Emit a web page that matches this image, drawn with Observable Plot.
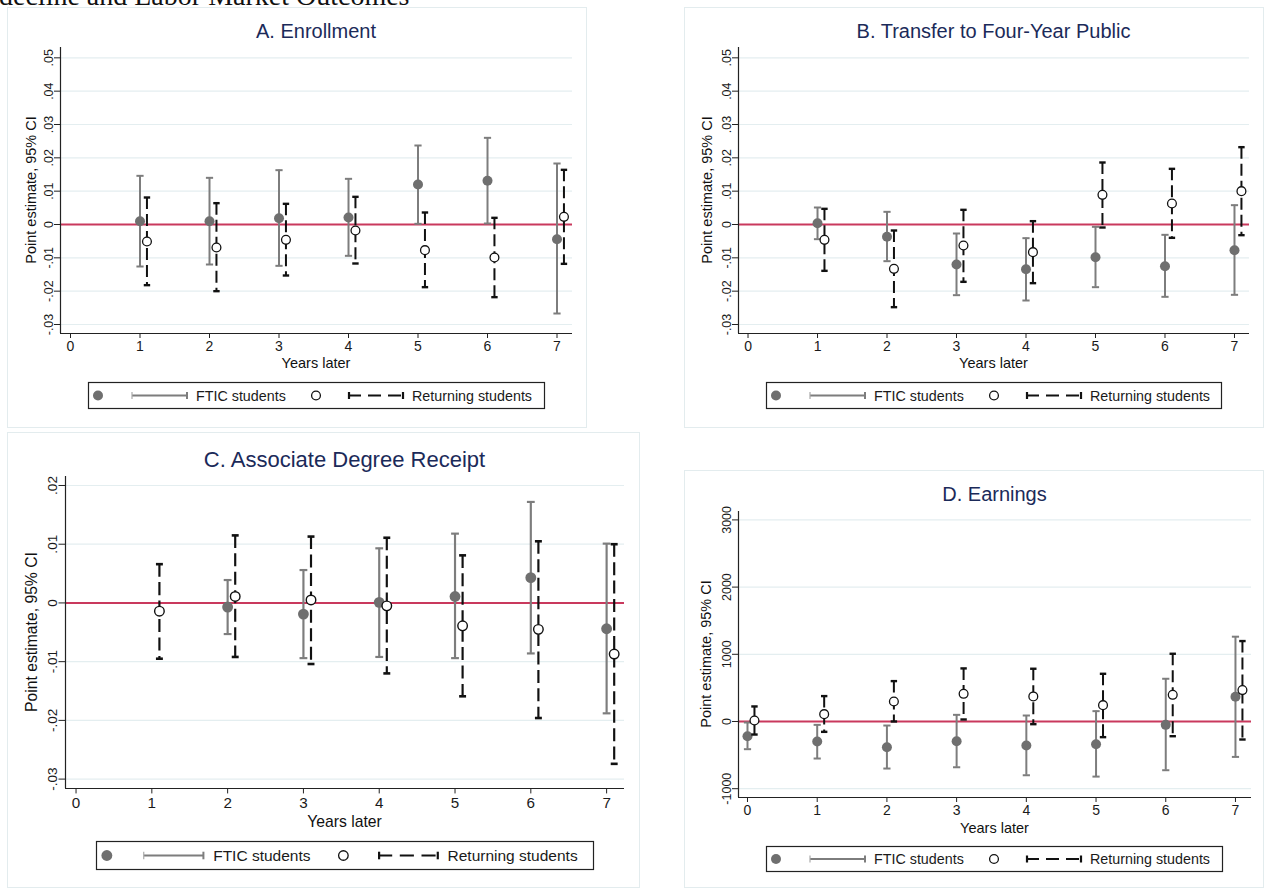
<!DOCTYPE html>
<html>
<head>
<meta charset="utf-8">
<script src="https://cdn.jsdelivr.net/npm/d3@7"></script>
<script src="https://cdn.jsdelivr.net/npm/@observablehq/plot@0.6"></script>
<style>
  html, body { margin: 0; padding: 0; background: #fff; }
  body { width: 1266px; height: 890px; position: relative; overflow: hidden;
         font-family: "Liberation Sans", Arial, sans-serif; color: #111; }
  .frame { position: absolute; border: 1px solid #e3ecee; box-sizing: border-box; }
  .abs { position: absolute; white-space: nowrap; line-height: 1; }
  .title { color: #1b2a59; transform: translate(-50%, -50%); }
  .ytitle { transform: translate(-50%, -50%) rotate(-90deg); }
  .xtitle { transform: translate(-50%, -50%); }
  .heading { font-family: "Liberation Serif", "DejaVu Serif", serif; font-size: 28px; line-height: 28px; }
  svg { overflow: visible; }
</style>
</head>
<body>
<script>
// ---------- data ----------
const xTicks = [0, 1, 2, 3, 4, 5, 6, 7];
const yTicksAB = [-0.03, -0.02, -0.01, 0, 0.01, 0.02, 0.03, 0.04, 0.05];
const yTicksC = [-0.03, -0.02, -0.01, 0, 0.01, 0.02];
const yTicksD = [-1000, 0, 1000, 2000, 3000];
const seriesLabels = ["FTIC students", "Returning students"];
const panelTitles = ["A. Enrollment", "B. Transfer to Four-Year Public", "C. Associate Degree Receipt", "D. Earnings"];
const xAxisTitle = "Years later";
const yAxisTitle = "Point estimate, 95% CI";
const headingText = "decline and Labor Market Outcomes";

// Panel A: Enrollment
const aFticYears = [1, 2, 3, 4, 5, 6, 7];
const aFticEst = [0.0010, 0.0010, 0.0019, 0.0021, 0.0120, 0.0131, -0.0044];
const aFticLo  = [-0.0126, -0.0120, -0.0124, -0.0094, 0.0002, 0.0003, -0.0267];
const aFticHi  = [0.0146, 0.0140, 0.0163, 0.0137, 0.0237, 0.0260, 0.0183];
const aRetYears = [1, 2, 3, 4, 5, 6, 7];
const aRetEst = [-0.0051, -0.0069, -0.0046, -0.0018, -0.0077, -0.0099, 0.0023];
const aRetLo  = [-0.0182, -0.0200, -0.0153, -0.0117, -0.0188, -0.0218, -0.0118];
const aRetHi  = [0.0081, 0.0064, 0.0062, 0.0083, 0.0036, 0.0020, 0.0164];

// Panel B: Transfer to Four-Year Public
const bFticYears = [1, 2, 3, 4, 5, 6, 7];
const bFticEst = [0.0004, -0.0037, -0.0120, -0.0134, -0.0098, -0.0125, -0.0077];
const bFticLo  = [-0.0044, -0.0110, -0.0212, -0.0228, -0.0188, -0.0217, -0.0211];
const bFticHi  = [0.0051, 0.0038, -0.0027, -0.0041, -0.0007, -0.0031, 0.0058];
const bRetYears = [1, 2, 3, 4, 5, 6, 7];
const bRetEst = [-0.0046, -0.0133, -0.0063, -0.0083, 0.0089, 0.0063, 0.0100];
const bRetLo  = [-0.0139, -0.0248, -0.0172, -0.0176, -0.0009, -0.0040, -0.0032];
const bRetHi  = [0.0047, -0.0018, 0.0044, 0.0010, 0.0186, 0.0167, 0.0232];

// Panel C: Associate Degree Receipt
const cFticYears = [2, 3, 4, 5, 6, 7];
const cFticEst = [-0.0007, -0.0019, 0.0001, 0.0011, 0.0043, -0.0044];
const cFticLo  = [-0.0053, -0.0094, -0.0092, -0.0094, -0.0086, -0.0188];
const cFticHi  = [0.0039, 0.0056, 0.0093, 0.0118, 0.0172, 0.0101];
const cRetYears = [1, 2, 3, 4, 5, 6, 7];
const cRetEst = [-0.0014, 0.0011, 0.0005, -0.0005, -0.0039, -0.0045, -0.0087];
const cRetLo  = [-0.0095, -0.0092, -0.0104, -0.0120, -0.0159, -0.0196, -0.0274];
const cRetHi  = [0.0066, 0.0115, 0.0113, 0.0111, 0.0081, 0.0105, 0.0100];

// Panel D: Earnings
const dFticYears = [0, 1, 2, 3, 4, 5, 6, 7];
const dFticEst = [-219, -298, -383, -293, -358, -338, -50, 368];
const dFticLo  = [-412, -551, -700, -681, -800, -820, -725, -527];
const dFticHi  = [-15, -50, -60, 99, 89, 154, 636, 1262];
const dRetYears = [0, 1, 2, 3, 4, 5, 6, 7];
const dRetEst = [15, 109, 298, 412, 373, 243, 397, 467];
const dRetLo  = [-194, -154, 0, 30, -40, -233, -219, -268];
const dRetHi  = [224, 378, 601, 790, 785, 710, 1008, 1197];

// ---------- styles ----------
const GRID = "#e4eef0";
const RED = "#c9395d";
const GRAY_PT = "#6f6f6f";
const GRAY_CI = "#7d7d7d";
const BLACK = "#111";
const RET_OFFSET = 0.1;
const FONT = "Liberation Sans, Arial, sans-serif";

const hyphen = s => s.replace(/\u2212/g, "-");
const fmtProp = d => d === 0 ? "0" : hyphen(d3.format(".2f")(d)).replace("0.", ".");
const fmtInt = d => hyphen(d3.format("d")(d));

const capSymbol = {
  draw(ctx, size) {
    const r = Math.sqrt(size / Math.PI);
    ctx.moveTo(-r, 0); ctx.lineTo(r, 0);
  }
};

function rows(years, est, lo, hi) {
  return years.map((x, i) => ({x, est: est[i], lo: lo[i], hi: hi[i]}));
}

const panels = [
  {title: panelTitles[0], frame: [7, 7, 580, 421], px: [60, 572], py: [47, 333],
   xDomain: [-0.144, 7.223], yDomain: [-0.0327, 0.0531], yTicks: yTicksAB, fmt: fmtProp,
   ftic: rows(aFticYears, aFticEst, aFticLo, aFticHi), ret: rows(aRetYears, aRetEst, aRetLo, aRetHi),
   titleY: 31, titleSize: 20, yTitleX: 31, xTitleY: 363, legend: [88, 382, 457, 27], s: 1},
  {title: panelTitles[1], frame: [684, 7, 580, 421], px: [738, 1249], py: [47, 333],
   xDomain: [-0.137, 7.216], yDomain: [-0.0327, 0.0531], yTicks: yTicksAB, fmt: fmtProp,
   ftic: rows(bFticYears, bFticEst, bFticLo, bFticHi), ret: rows(bRetYears, bRetEst, bRetLo, bRetHi),
   titleY: 31, titleSize: 20, yTitleX: 707, xTitleY: 363, legend: [766, 382, 456, 27], s: 1},
  {title: panelTitles[2], frame: [7, 432, 633, 456], px: [65, 624], py: [476, 788],
   xDomain: [-0.139, 7.236], yDomain: [-0.0316, 0.02153], yTicks: yTicksC, fmt: fmtProp,
   ftic: rows(cFticYears, cFticEst, cFticLo, cFticHi), ret: rows(cRetYears, cRetEst, cRetLo, cRetHi),
   titleY: 460, titleSize: 22, yTitleX: 32, xTitleY: 822, legend: [96, 841, 498, 29], s: 1.085},
  {title: panelTitles[3], frame: [684, 470, 580, 418], px: [738, 1251], py: [511, 797],
   xDomain: [-0.129, 7.23], yDomain: [-1131, 3125], yTicks: yTicksD, fmt: fmtInt,
   ftic: rows(dFticYears, dFticEst, dFticLo, dFticHi), ret: rows(dRetYears, dRetEst, dRetLo, dRetHi),
   titleY: 494, titleSize: 20, yTitleX: 706, xTitleY: 828, legend: [766, 846, 457, 26], s: 1}
];

function addDiv(cls, text, left, top, style) {
  const d = document.createElement("div");
  d.className = cls;
  if (text != null) d.textContent = text;
  d.style.left = left + "px";
  d.style.top = top + "px";
  Object.assign(d.style, style || {});
  document.body.appendChild(d);
  return d;
}

// heading fragment (the reference shows only its lower part at the very top)
addDiv("abs heading", headingText, -1, -18);

for (const p of panels) {
  const [fx, fy, fw, fh] = p.frame;
  const s = p.s;
  addDiv("frame", null, fx, fy, {width: fw + "px", height: fh + "px"});

  const retX = d => d.x + RET_OFFSET;
  const chart = Plot.plot({
    width: fw, height: fh,
    marginLeft: p.px[0] - fx, marginRight: fx + fw - p.px[1],
    marginTop: p.py[0] - fy, marginBottom: fy + fh - p.py[1],
    x: {domain: p.xDomain}, y: {domain: p.yDomain},
    style: {fontFamily: FONT, background: "transparent", color: "#1a1a1a", overflow: "visible"},
    marks: [
      Plot.ruleY(p.yTicks, {stroke: GRID, strokeWidth: 1.2}),
      Plot.ruleY([0], {stroke: RED, strokeWidth: 2}),
      Plot.ruleX(p.ftic, {x: "x", y1: "lo", y2: "hi", stroke: GRAY_CI, strokeWidth: 2 * s}),
      Plot.dot(p.ftic, {x: "x", y: "lo", symbol: capSymbol, r: 3.6 * s, fill: "none", stroke: GRAY_CI, strokeWidth: 2 * s}),
      Plot.dot(p.ftic, {x: "x", y: "hi", symbol: capSymbol, r: 3.6 * s, fill: "none", stroke: GRAY_CI, strokeWidth: 2 * s}),
      Plot.dot(p.ftic, {x: "x", y: "est", r: 5 * s, fill: GRAY_PT, stroke: "none"}),
      Plot.ruleX(p.ret, {x: retX, y1: "hi", y2: "lo", stroke: BLACK, strokeWidth: 2 * s, strokeDasharray: `${12 * s},${5 * s}`}),
      Plot.dot(p.ret, {x: retX, y: "lo", symbol: capSymbol, r: 3.2 * s, fill: "none", stroke: BLACK, strokeWidth: 2.4 * s}),
      Plot.dot(p.ret, {x: retX, y: "hi", symbol: capSymbol, r: 3.2 * s, fill: "none", stroke: BLACK, strokeWidth: 2.4 * s}),
      Plot.dot(p.ret, {x: retX, y: "est", r: 4.4 * s, fill: "#fff", stroke: BLACK, strokeWidth: 1.3 * s}),
      Plot.axisX({ticks: xTicks, tickFormat: fmtInt, tickSize: 5 * s, tickPadding: 3, fontSize: 14 * s, label: null, stroke: "#222"}),
      Plot.axisY({ticks: p.yTicks, tickFormat: p.fmt, tickRotate: -90, tickSize: 6 * s, tickPadding: 2, fontSize: 12.5 * s, label: null, stroke: "#222"}),
      Plot.ruleX([p.xDomain[0]], {stroke: "#222", strokeWidth: 1.2}),
      Plot.ruleY([p.yDomain[0]], {stroke: "#222", strokeWidth: 1.2})
    ]
  });
  chart.style.position = "absolute";
  chart.style.left = fx + "px";
  chart.style.top = fy + "px";
  document.body.appendChild(chart);

  const cx = (p.px[0] + p.px[1]) / 2;
  const cy = (p.py[0] + p.py[1]) / 2;
  addDiv("abs title", p.title, cx, p.titleY, {fontSize: p.titleSize + "px"});
  addDiv("abs ytitle", yAxisTitle, p.yTitleX, cy, {fontSize: (14.5 * s) + "px"});
  addDiv("abs xtitle", xAxisTitle, cx, p.xTitleY, {fontSize: (14.5 * s) + "px"});

  // legend
  const [lx, ly, lw, lh] = p.legend;
  const mid = lh / 2;
  const lg = d3.create("svg").attr("width", lw).attr("height", lh)
    .style("position", "absolute").style("left", lx + "px").style("top", ly + "px")
    .style("font-family", FONT);
  lg.append("rect").attr("x", 0.5).attr("y", 0.5).attr("width", lw - 1).attr("height", lh - 1)
    .attr("fill", "#fff").attr("stroke", "#222").attr("stroke-width", 1.2);
  lg.append("circle").attr("cx", 10 * s).attr("cy", mid).attr("r", 5 * s).attr("fill", GRAY_PT);
  const g1 = lg.append("g").attr("stroke", GRAY_CI).attr("stroke-width", 2);
  g1.append("line").attr("x1", 44 * s).attr("x2", 99 * s).attr("y1", mid).attr("y2", mid);
  g1.append("line").attr("x1", 44 * s).attr("x2", 44 * s).attr("y1", mid - 3.5 * s).attr("y2", mid + 3.5 * s).attr("stroke-width", 1.2).attr("stroke", "#aaa");
  g1.append("line").attr("x1", 99 * s).attr("x2", 99 * s).attr("y1", mid - 3.5 * s).attr("y2", mid + 3.5 * s);
  lg.append("text").attr("x", 108 * s).attr("y", mid).attr("dy", "0.35em")
    .attr("font-size", 14.3 * s).attr("fill", "#1a1a1a").text(seriesLabels[0]);
  lg.append("circle").attr("cx", 228 * s).attr("cy", mid).attr("r", 4.4 * s)
    .attr("fill", "#fff").attr("stroke", BLACK).attr("stroke-width", 1.3);
  const g2 = lg.append("g").attr("stroke", BLACK).attr("stroke-width", 2.2);
  g2.append("line").attr("x1", 260 * s).attr("x2", 315 * s).attr("y1", mid).attr("y2", mid)
    .attr("stroke-dasharray", `${13 * s},${7 * s}`);
  g2.append("line").attr("x1", 260 * s + 1).attr("x2", 260 * s + 1).attr("y1", mid - 3.5 * s).attr("y2", mid + 3.5 * s);
  g2.append("line").attr("x1", 315 * s).attr("x2", 315 * s).attr("y1", mid - 3.5 * s).attr("y2", mid + 3.5 * s);
  lg.append("text").attr("x", 324 * s).attr("y", mid).attr("dy", "0.35em")
    .attr("font-size", 14.3 * s).attr("fill", "#1a1a1a").text(seriesLabels[1]);
  document.body.appendChild(lg.node());
}
</script>
</body>
</html>
